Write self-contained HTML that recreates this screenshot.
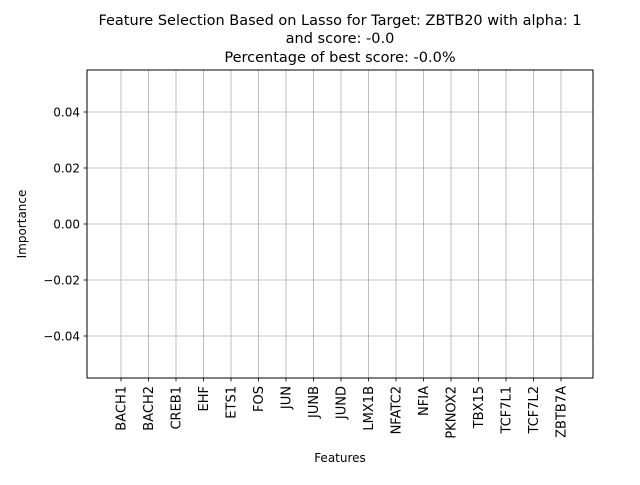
<!DOCTYPE html>
<html><head><meta charset="utf-8"><style>
body{margin:0;background:#fff;}
svg text{font-family:"DejaVu Sans","Liberation Sans",sans-serif;fill:#000;}
</style></head><body>
<svg id="chart" width="640" height="480" xmlns="http://www.w3.org/2000/svg">
<rect width="640" height="480" fill="#fff"/>
<g id="title" font-size="14.5" text-anchor="middle">
<text x="340" y="25">Feature Selection Based on Lasso for Target: ZBTB20 with alpha: 1</text>
<text x="340" y="43">and score: -0.0</text>
<text x="340" y="62">Percentage of best score: -0.0%</text>
</g>
<g id="grid"></g><g id="bars"></g><g id="xticks"></g><g id="yticks"></g>
<rect x="87" y="70" width="506" height="308" fill="none" stroke="#000" stroke-width="1"/>
<text x="340" y="462" font-size="12" text-anchor="middle">Features</text>
<text transform="translate(26,224) rotate(-90)" font-size="12" text-anchor="middle">Importance</text>
</svg>
<script>
const categories=["BACH1","BACH2","CREB1","EHF","ETS1","FOS","JUN","JUNB","JUND","LMX1B","NFATC2","NFIA","PKNOX2","TBX15","TCF7L1","TCF7L2","ZBTB7A"];
const values=[0,0,0,0,0,0,0,0,0,0,0,0,0,0,0,0,0];
const yTicks=[0.04,0.02,0,-0.02,-0.04];
const yTickLabels=["0.04","0.02","0.00","\u22120.02","\u22120.04"];
const NS="http://www.w3.org/2000/svg";
const L=87,R=593,T=70,B=378,yMin=-0.055,yMax=0.055;
const xs=i=>121+(i)*(533+28-121)/(categories.length-1);
const ys=v=>B-(v-yMin)/(yMax-yMin)*(B-T);
function mk(tag,attrs,parent){const e=document.createElementNS(NS,tag);for(const k in attrs)e.setAttribute(k,attrs[k]);document.getElementById(parent).appendChild(e);return e;}
categories.forEach((c,i)=>{
 const x=xs(i);
 const g=mk("line",{x1:x,x2:x,y1:T,y2:B,stroke:"#b0b0b0","stroke-width":0.8},"grid");
 
 
 const b=mk("rect",{x:x-11,width:22,y:Math.min(ys(values[i]),ys(0)),height:Math.abs(ys(values[i])-ys(0)),fill:"#1f77b4"},"bars");
 
 
 const t=mk("line",{x1:x,x2:x,y1:B,y2:B+3.5,stroke:"#000","stroke-width":0.8},"xticks");
 
 
 const l=mk("text",{transform:`translate(${x+4.5},${B+8}) rotate(-90)`,"font-size":13,"text-anchor":"end"},"xticks");
 l.textContent=c;
 
 
});
yTicks.forEach((v,i)=>{
 const y=ys(v);
 const g=mk("line",{x1:L,x2:R,y1:y,y2:y,stroke:"#b0b0b0","stroke-width":0.8},"grid");
 
 
 const t=mk("line",{x1:L-3.5,x2:L,y1:y,y2:y,stroke:"#000","stroke-width":0.8},"yticks");
 
 
 const l=mk("text",{x:L-7,y:y+4.5,"font-size":12,"text-anchor":"end"},"yticks");
 l.textContent=yTickLabels[i];
 
 
});
</script>
</body></html>
